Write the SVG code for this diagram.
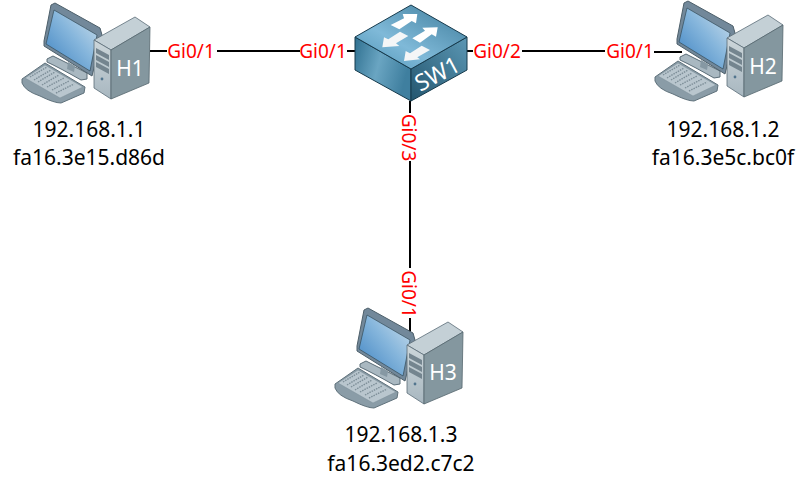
<svg xmlns="http://www.w3.org/2000/svg" width="807" height="490" viewBox="0 0 807 490">
<style>
text{font-family:"Noto Sans","DejaVu Sans",sans-serif}
.addr{font-size:21px;fill:#000;text-anchor:middle}
.port{font-size:19px;fill:#f00;text-anchor:middle}
.name{font-size:21px;fill:#fff;text-anchor:middle}
.link{stroke:#000;stroke-width:2;fill:none}
</style>
<defs>
<linearGradient id="scr" x1="0" y1="1" x2="1" y2="0"><stop offset="0" stop-color="#3a80c0"/><stop offset=".55" stop-color="#86b6dc"/><stop offset="1" stop-color="#cfe0ec"/></linearGradient>
<linearGradient id="twf" x1="0" y1="0" x2="0" y2="1"><stop offset="0" stop-color="#ccd6da"/><stop offset="1" stop-color="#a8b7c0"/></linearGradient>
<linearGradient id="swt" x1="0" y1="1" x2="1" y2="0"><stop offset="0" stop-color="#4d93b5"/><stop offset=".4" stop-color="#7fb9d8"/><stop offset="1" stop-color="#3c7a99"/></linearGradient>
<linearGradient id="swl" x1="0" y1="0" x2="1" y2="0.3"><stop offset="0" stop-color="#2f7090"/><stop offset=".5" stop-color="#6aa5c2"/><stop offset="1" stop-color="#3f7f9f"/></linearGradient>
<linearGradient id="swr" x1="0" y1="1" x2="1" y2="0"><stop offset="0" stop-color="#24566f"/><stop offset="1" stop-color="#5b97b4"/></linearGradient>
<g id="host">
<path d="M47 59 L53 56 L87 73 L87 79 L81 80 Q60 68 47 62Z" fill="#a9b8c1" stroke="#5a6c77"/>
<path d="M68 62 L75 66 L74 72 L67 69Z" fill="#8698a3"/>
<path d="M22 79 L45 63 L85 87 L84 93 L61 103 Q54 103 40 96 Q25 91 22 83Z" fill="#8a9ca7" stroke="#5f717b"/>
<path d="M25 78 L45 65 L83 87 L60 98Z" fill="#b9c6ce" stroke="#7a8c97" stroke-width=".5"/>
<path d="M30 77 L47 67 M34 80 L51 70 M38 82 L55 72 M42 85 L59 75 M47 87 L64 78 M52 90 L69 81 M56 93 L74 84" stroke="#7d8e98" stroke-width="1.4" stroke-dasharray="1.5 1"/>
<path d="M55 3 L100 28 L102 35 L92 76 L44 46 L44 41 L51 5Z" fill="#72889a" stroke="#4d5f6a"/>
<path d="M54 10 L97 35 L90 71 L46 44Z" fill="url(#scr)" stroke="#324a58" stroke-width=".7"/>
<path d="M94 40 L135 17 L150 27 L111 50Z" fill="#c4d0d6" stroke="#5a6c77" stroke-width=".8"/>
<path d="M94 40 L111 50 V99 L94 88Z" fill="url(#twf)" stroke="#5a6c77" stroke-width=".8"/>
<path d="M111 50 L150 27 L149 83 L111 99Z" fill="#84979f" stroke="#56676f" stroke-width=".8"/>
<path d="M96 48 L109 55 V60 L96 53Z M96 55 L109 62 V67 L96 60Z M96 62 L109 69 V74 L96 67Z" fill="#74858f"/>
<circle cx="102" cy="79" r="1.4" fill="#52758e"/>
</g>
</defs>
<g id="connectors">
<path class="link" d="M150 51H167M217 51H300M347 51H355"/>
<path class="link" d="M467 51H473M522 51H605M654 52H682"/>
<path class="link" d="M410 101V113M410 161V268M410 318V336"/>
</g>
<g id="H1"><use href="#host"/><text class="name" x="130" y="76">H1</text><text class="addr" x="89" y="137">192.168.1.1</text><text class="addr" x="89" y="165">fa16.3e15.d86d</text></g>
<g id="H2"><use href="#host" x="633" y="-2"/><text class="name" x="763" y="74">H2</text><text class="addr" x="723" y="137">192.168.1.2</text><text class="addr" x="723" y="165">fa16.3e5c.bc0f</text></g>
<g id="H3"><use href="#host" x="313" y="305"/><text class="name" x="443" y="380">H3</text><text class="addr" x="401" y="442">192.168.1.3</text><text class="addr" x="401" y="471">fa16.3ed2.c7c2</text></g>
<g id="SW1">
<path d="M355 37 L411 69 V101 L355 70Z" fill="url(#swl)" stroke="#163a4c"/>
<path d="M467 37 L411 69 V101 L467 70Z" fill="url(#swr)" stroke="#163a4c"/>
<path d="M411 5 L467 37 L411 69 L355 37Z" fill="url(#swt)" stroke="#163a4c"/>
<path d="M402.7 14 L417.3 14 L416 23.3 L411.7 21 L399.3 29.3 L390.7 25 L404 18.3Z" fill="#fff"/>
<path d="M382.3 47.3 L384 37.3 L388.3 39.3 L400 31.7 L408.3 36 L396 43.3 L399.3 46Z" fill="#f4f6f7"/>
<path d="M422.3 27.7 L437.7 27.3 L436 36.7 L431.7 34.3 L420 42.7 L412.3 38.3 L425 30.7Z" fill="#fff"/>
<path d="M404 61 L405.7 51 L410 53.3 L421.7 45.7 L430 50 L417.3 57.3 L420 59.3Z" fill="#f4f6f7"/>
<text transform="translate(441 81) rotate(-28)" style="font-size:23px;fill:#fff;text-anchor:middle">SW1</text>
</g>
<g id="labels">
<text class="port" x="191" y="58">Gi0/1</text>
<text class="port" x="323" y="58">Gi0/1</text>
<text class="port" x="497" y="58">Gi0/2</text>
<text class="port" x="630" y="58">Gi0/1</text>
<text class="port" transform="translate(402 137.500) rotate(90)">Gi0/3</text>
<text class="port" transform="translate(402 294) rotate(90)">Gi0/1</text>
</g>
</svg>
